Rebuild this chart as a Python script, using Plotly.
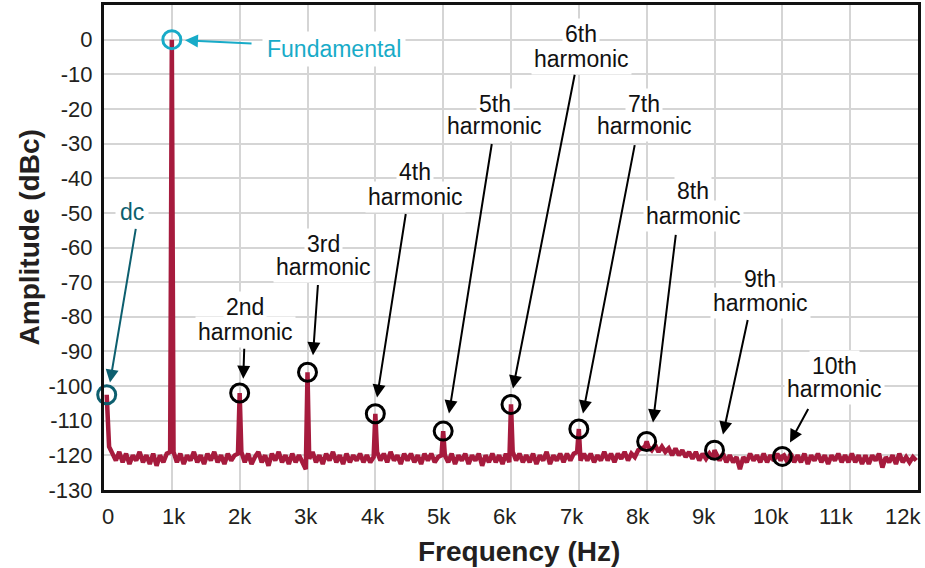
import numpy as np
import plotly.graph_objects as go

# ---------------- data ----------------
dc_freq = 40
dc_amp = -102.5

harm_order = [1, 2, 3, 4, 5, 6, 7, 8, 9, 10]
harm_freq = [1000, 2000, 3000, 4000, 5000, 6000, 7000, 8000, 9000, 10000]
harm_amp = [0, -102, -96, -108, -113, -105.3, -112.4, -116, -118.5, -120.3]

# noise floor sampled every 50 Hz starting at 75 Hz
noise_start = 75
noise_step = 50
noise_amp = [
    # 0 - 1 kHz
    -117.5, -119.5, -121.5, -119, -122, -119.5, -122.5, -120, -121.5, -119,
    -122, -120, -122.5, -119.5, -123, -120, -122, -119.5, -119,
    # 1 - 2 kHz
    -119, -122, -119.5, -122.5, -120, -121.5, -119, -122, -120, -122.5,
    -119.5, -121.5, -119, -122, -120, -122.5, -119.5, -121.5, -120, -119.5,
    # 2 - 3 kHz
    -119, -122, -119.5, -122.5, -120.5, -119, -122, -120, -123, -119.5,
    -121.5, -119, -122, -120, -122.5, -119.5, -122, -120, -122, -124,
    # 3 - 4 kHz
    -121, -119, -122, -120, -122.5, -119.5, -121.5, -119, -122, -120,
    -122.5, -119.5, -122, -120, -121.5, -119.5, -122, -120, -122, -120.5,
    # 4 - 5 kHz
    -119, -121.5, -119.5, -122, -119, -121.5, -120, -122.5, -119.5, -121.5,
    -119.5, -122, -120, -122.5, -119.5, -121.5, -119.5, -122, -120.5, -120,
    # 5 - 6 kHz
    -120, -122, -119.5, -122.5, -120, -121.5, -119.5, -122.5, -120, -121.5,
    -119.5, -123, -120, -122, -119.5, -122, -120, -122.5, -119.5, -122,
    # 6 - 7 kHz
    -119, -121.5, -119.5, -122, -120, -122, -119.5, -122.5, -120, -121.5,
    -119, -122.5, -120, -121.5, -119.5, -122, -119.5, -121.5, -119.5, -119,
    # 7 - 8 kHz
    -121.5, -119.5, -121.5, -119.5, -122, -120, -121.5, -119, -121.5, -119.5,
    -122, -119.5, -121, -119, -121.5, -119.5, -120.5, -118.5, -118, -117.5,
    # 8 - 9 kHz
    -117.5, -118.5, -117, -119, -117.5, -119, -118, -120, -118, -120,
    -118.5, -120.5, -119, -121, -119, -121.5, -119.5, -121, -119.5, -121,
    # 9 - 10 kHz
    -119.5, -121.5, -119.5, -122, -120, -122, -120.5, -124, -120.5, -122,
    -119.5, -121.5, -120, -122, -119.5, -122, -120, -121.5, -119.5, -121.5,
    # 10 - 11 kHz
    -120, -122, -119.5, -122, -120, -122, -119.5, -122.5, -120, -121.5,
    -119.5, -122, -120, -122.5, -120, -121.5, -119.5, -122, -120, -122,
    # 11 - 12 kHz
    -119.5, -122, -120, -122.5, -120, -122.5, -120, -121.5, -119.5, -123.5,
    -120.5, -122, -120, -122.5, -119.5, -122, -120.5, -122, -120.5, -121.5,
]

x_tickvals = [0, 1000, 2000, 3000, 4000, 5000, 6000, 7000, 8000, 9000, 10000, 11000, 12000]
x_ticktext = ["0", "1k", "2k", "3k", "4k", "5k", "6k", "7k", "8k", "9k", "10k", "11k", "12k"]
# the printed tick labels sit on a slightly tighter spacing than the grid
x_label_pos = [52, 1029, 2007, 2984, 3962, 4939, 5916, 6894, 7871, 8849, 9826, 10803, 11781]
y_tickvals = [0, -10, -20, -30, -40, -50, -60, -70, -80, -90, -100, -110, -120, -130]
y_ticktext = ["0", "-10", "-20", "-30", "-40", "-50", "-60", "-70", "-80", "-90",
              "-100", "-110", "-120", "-130"]

# label texts and their layout positions (freq, dB) - (line1 y, line2 y)
label_top = ["2nd", "3rd", "4th", "5th", "6th", "7th", "8th", "9th", "10th"]
label_x = [2079, 3243, 4585, 5764, 7032, 7961, 8683, 9671, 10776]
label_y1 = [-77.2, -59.1, -38.3, -18.7, 1.7, -18.5, -43.8, -69.2, -94.3]
label_y2 = [-84.4, -65.7, -45.3, -25.0, -5.5, -24.8, -51.0, -75.9, -100.8]
# arrows: tail (tx, ty) -> head (hx, hy)
arrow_tx = [2068, 3155, 4452, 5720, 6943, 7828, 8432, 9494, 10393]
arrow_ty = [-88.8, -70.4, -49.9, -29.7, -9.7, -30.0, -55.9, -80.5, -106.2]
arrow_hx = [2053, 3081, 4025, 5086, 6029, 7061, 8093, 9125, 10113]
arrow_hy = [-97.9, -91.1, -103.3, -107.9, -100.7, -107.9, -110.5, -114.0, -116.3]

# ---------------- build spectrum ----------------
noise_freq = [noise_start + noise_step * i for i in range(len(noise_amp))]
pts = list(zip(noise_freq, noise_amp)) + [(dc_freq, dc_amp)] + list(zip(harm_freq, harm_amp))
pts.sort(key=lambda p: p[0])
spec_f = [p[0] for p in pts]
spec_a = [p[1] for p in pts]

LINE = "#A61B3D"
CYAN = "#18ABC8"
TEAL = "#0D5F6F"
FONT = "Liberation Sans, Arial, Helvetica, sans-serif"

fig = go.Figure()
fig.add_trace(go.Scatter(x=spec_f, y=spec_a, mode="lines",
                         line=dict(color=LINE, width=4.5), hoverinfo="skip"))
fig.add_trace(go.Scatter(x=harm_freq[1:], y=harm_amp[1:], mode="markers",
                         marker=dict(symbol="circle-open", size=18, color="black",
                                     line=dict(width=3, color="black")),
                         cliponaxis=False))
fig.add_trace(go.Scatter(x=[harm_freq[0]], y=[harm_amp[0]], mode="markers",
                         marker=dict(symbol="circle-open", size=18, color=CYAN,
                                     line=dict(width=3, color=CYAN)),
                         cliponaxis=False))
fig.add_trace(go.Scatter(x=[dc_freq], y=[dc_amp], mode="markers",
                         marker=dict(symbol="circle-open", size=18, color=TEAL,
                                     line=dict(width=3, color=TEAL)),
                         cliponaxis=False))

ann = []
# x tick labels
for pos, txt in zip(x_label_pos, x_ticktext):
    ann.append(dict(x=pos, y=-0.055, xref="x", yref="paper", text=txt, showarrow=False,
                    xanchor="center", yanchor="middle",
                    font=dict(size=22, color="#231F20", family=FONT)))
# label boxes: second line first, then first line on top
for i in range(len(label_top)):
    ann.append(dict(x=label_x[i], y=label_y2[i], xref="x", yref="y", text="harmonic",
                    showarrow=False, bgcolor="white", borderpad=2,
                    font=dict(size=23, color="#111", family=FONT)))
for i in range(len(label_top)):
    ann.append(dict(x=label_x[i], y=label_y1[i], xref="x", yref="y", text=label_top[i],
                    showarrow=False, bgcolor="white", borderpad=2,
                    font=dict(size=23, color="#111", family=FONT)))
ann.append(dict(x=2329, y=-2.6, xref="x", yref="y", text="Fundamental", xanchor="left",
                showarrow=False, bgcolor="white", borderpad=4,
                font=dict(size=23, color=CYAN, family=FONT)))
ann.append(dict(x=408, y=-49.8, xref="x", yref="y", text="dc",
                showarrow=False, bgcolor="white", borderpad=4,
                font=dict(size=23, color=TEAL, family=FONT)))
for i in range(len(label_top)):
    ann.append(dict(x=arrow_hx[i], y=arrow_hy[i], ax=arrow_tx[i], ay=arrow_ty[i],
                    xref="x", yref="y", axref="x", ayref="y", text="",
                    showarrow=True, arrowhead=2, arrowsize=1.3, arrowwidth=2,
                    arrowcolor="black", standoff=0))
ann.append(dict(x=1194, y=-0.2, ax=2197, ay=-1.1, xref="x", yref="y", axref="x", ayref="y",
                text="", showarrow=True, arrowhead=2, arrowsize=1.3, arrowwidth=2,
                arrowcolor=CYAN, standoff=0))
ann.append(dict(x=88, y=-99.0, ax=472, ay=-54.2, xref="x", yref="y", axref="x", ayref="y",
                text="", showarrow=True, arrowhead=2, arrowsize=1.3, arrowwidth=2,
                arrowcolor=TEAL, standoff=0))
# axis titles
ann.append(dict(x=-0.092, y=0.521, xref="paper", yref="paper", text="<b>Amplitude (dBc)</b>",
                textangle=-90, showarrow=False, xanchor="center", yanchor="middle",
                font=dict(size=28, color="#231F20", family=FONT)))
ann.append(dict(x=0.51, y=-0.126, xref="paper", yref="paper", text="<b>Frequency (Hz)</b>",
                showarrow=False, xanchor="center", yanchor="middle",
                font=dict(size=28, color="#231F20", family=FONT)))

fig.update_layout(
    width=925, height=568,
    margin=dict(l=104, r=7, t=5, b=78, autoexpand=False),
    plot_bgcolor="white", paper_bgcolor="white",
    showlegend=False,
    font=dict(family=FONT, color="#231F20"),
    annotations=ann,
)
fig.update_xaxes(range=[0, 12000], tickvals=x_tickvals, showticklabels=False,
                 showgrid=True, gridcolor="#D5D5D5", gridwidth=1.5,
                 showline=True, linecolor="#111", linewidth=3, mirror=True,
                 ticks="", zeroline=False, automargin=False)
fig.update_yaxes(range=[-130, 10], tickvals=y_tickvals, ticktext=y_ticktext,
                 showgrid=True, gridcolor="#D5D5D5", gridwidth=1.5,
                 showline=True, linecolor="#111", linewidth=3, mirror=True,
                 ticks="", zeroline=False, tickfont=dict(size=22),
                 ticklabelstandoff=4, automargin=False)

fig.write_html("out.html")
